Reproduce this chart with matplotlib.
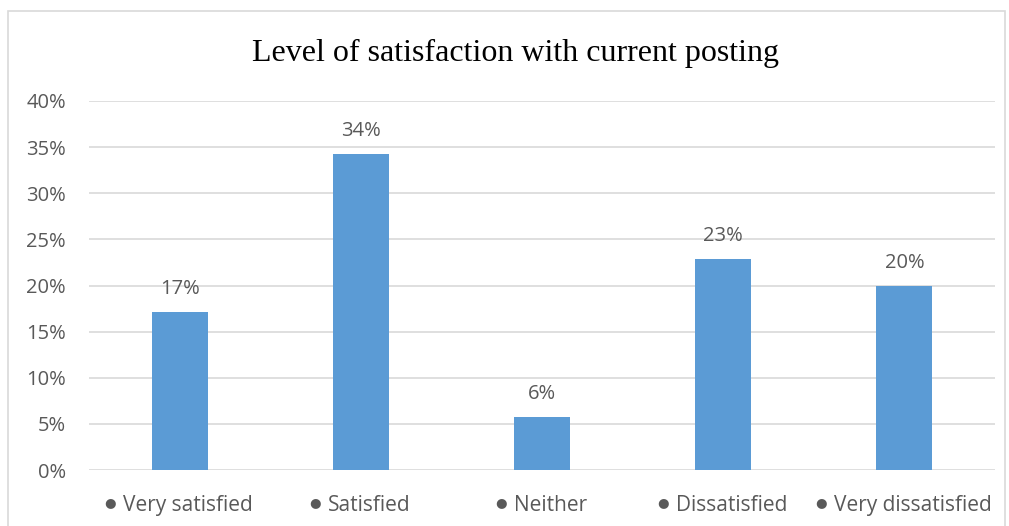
import matplotlib
matplotlib.use("Agg")
import matplotlib.pyplot as plt
from matplotlib.patches import Rectangle
from matplotlib.ticker import MultipleLocator, FuncFormatter
from matplotlib.transforms import ScaledTranslation

# survey responses, share of respondents
categories = ["Very satisfied", "Satisfied", "Neither", "Dissatisfied", "Very dissatisfied"]
shares = [17.14, 34.29, 5.71, 22.86, 20.0]
title = "Level of satisfaction with current posting"

BAR = "#5B9BD5"
GRID = "#D9D9D9"
TXT = "#595959"
SANS = ["Open Sans", "DejaVu Sans"]

fig = plt.figure(figsize=(10.09, 5.26), dpi=100)
W, H = 1009, 526
# plot area in pixels
x0, x1, y0, y1 = 89, 995, 470, 101
ax = fig.add_axes([x0 / W, 1 - y0 / H, (x1 - x0) / W, (y0 - y1) / H])

xs = range(len(categories))
ax.bar(xs, shares, width=0.31, color=BAR, zorder=3)
for x, v in zip(xs, shares):
    ax.text(x, v + 1.4, f"{v:.0f}%", ha="center", va="bottom",
            fontsize=14.5, color=TXT, family=SANS)

ax.set_xlim(-0.5, len(categories) - 0.5)
ax.set_ylim(0, 40)
ax.yaxis.set_major_locator(MultipleLocator(5))
ax.yaxis.set_major_formatter(FuncFormatter(lambda v, p: f"{v:.0f}%"))
ax.grid(axis="y", color=GRID, linewidth=1.2, zorder=0)
ax.tick_params(axis="y", length=0, pad=16.5, labelsize=14.5, labelcolor=TXT)
for lab in ax.get_yticklabels():
    lab.set_family(SANS)

ax.set_xticks(list(xs))
ax.set_xticklabels(categories, family=SANS, fontsize=15, color=TXT)
ax.tick_params(axis="x", length=0, pad=18)
for s in ax.spines.values():
    s.set_visible(False)

# shift names right so bullet + name sit centred under the bar
shift = ScaledTranslation(8.5 / 100, 0, fig.dpi_scale_trans)
for lab in ax.get_xticklabels():
    lab.set_transform(lab.get_transform() + shift)

fig.text(516 / W, 1 - 53 / H, title, ha="center", va="center",
         fontsize=23, family="Liberation Serif", color="black")

# bullets in front of each name
fig.canvas.draw()
renderer = fig.canvas.get_renderer()
for lab in ax.get_xticklabels():
    bb = lab.get_window_extent(renderer)
    fig.text((bb.x0 - 7) / W, ((bb.y0 + bb.y1) / 2 + 3) / H, "\u25CF",
             ha="right", va="center", fontsize=9.5, color=TXT,
             family="DejaVu Sans")

# chart frame
fig.patches.append(Rectangle((8 / W, -0.01), (1005 - 8) / W, 1 - 11 / H + 0.01,
                             transform=fig.transFigure, fill=False,
                             edgecolor="#D9D9D9", linewidth=1.2))

fig.savefig("out.png", dpi=100)
